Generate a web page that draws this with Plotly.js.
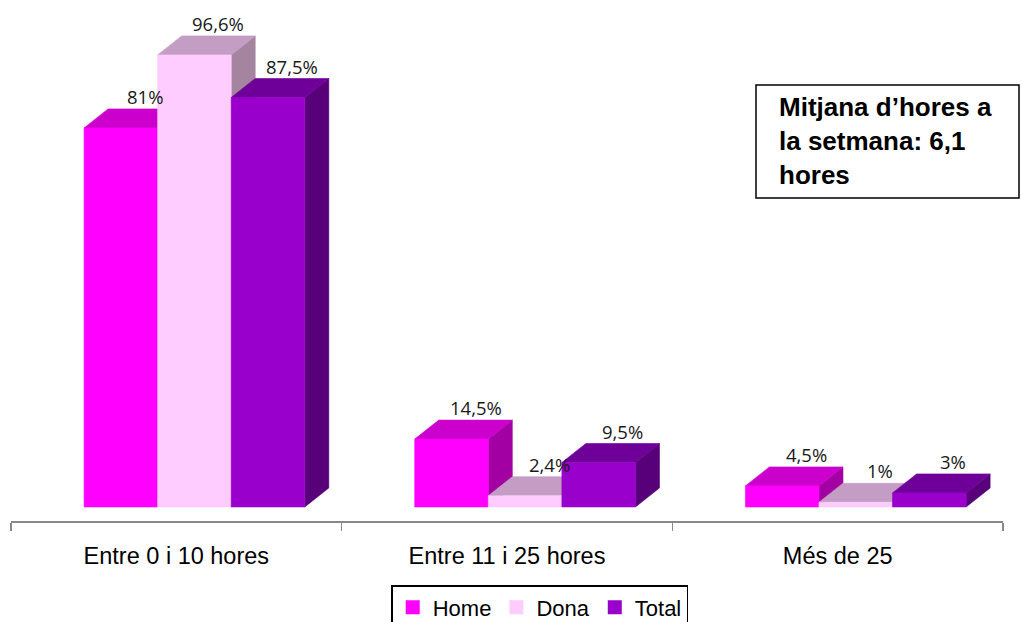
<!DOCTYPE html>
<html>
<head>
<meta charset="utf-8">
<script src="https://cdn.plot.ly/plotly-3.0.1.min.js"></script>
<style>html,body{margin:0;padding:0;background:#fff;}#chart{width:1022px;height:622px;}</style>
</head>
<body>
<div id="chart"></div>
<script>
// ---- data ----
const categories = ['Entre 0 i 10 hores', 'Entre 11 i 25 hores', 'Més de 25'];
const seriesNames = ['Home', 'Dona', 'Total'];
const home = [81, 14.5, 4.5];
const dona = [96.6, 2.4, 1];
const total = [87.5, 9.5, 3];
const infoLines = ['Mitjana d’hores a', 'la setmana: 6,1', 'hores'];

// ---- styles ----
const faceColors = [
  {front: '#FF00FF', top: '#CC00CC', side: '#A300A3'},
  {front: '#FFCCFF', top: '#C39DC3', side: '#A4849F'},
  {front: '#9900CC', top: '#6E0099', side: '#57007A'}
];
const barStart = 0.221, barW = 0.2225, depthX = 0.0726, depthY = 4.06;

const series = [home, dona, total];
const traces = [];

function poly(xs, ys, color) {
  traces.push({
    type: 'scatter', mode: 'lines', x: xs.concat([xs[0]]), y: ys.concat([ys[0]]),
    fill: 'toself', fillcolor: color, line: {color: color, width: 0.6},
    hoverinfo: 'skip', showlegend: false
  });
}

const annotations = [];
categories.forEach((cat, i) => {
  series.forEach((vals, k) => {
    const v = vals[i];
    const x0 = i + barStart + k * barW, x1 = x0 + barW;
    const c = faceColors[k];
    poly([x1, x1 + depthX, x1 + depthX, x1], [0, depthY, v + depthY, v], c.side);
    poly([x0, x1, x1 + depthX, x0 + depthX], [v, v, v + depthY, v + depthY], c.top);
    poly([x0, x1, x1, x0], [0, 0, v, v], c.front);
    annotations.push({
      x: (x0 + x1) / 2 + depthX, y: v + depthY, xref: 'x', yref: 'y',
      text: String(v).replace('.', ',') + '%', showarrow: false,
      yanchor: 'bottom', xanchor: 'center', yshift: -2,
      font: {family: 'Open Sans, sans-serif', size: 18.5, color: '#1a1a1a'}
    });
  });
});

// legend entries
seriesNames.forEach((n, k) => {
  traces.push({
    type: 'scatter', mode: 'markers', x: [null], y: [null], name: n,
    marker: {symbol: 'square', size: 14, color: faceColors[k].front},
    hoverinfo: 'skip'
  });
});

annotations.push({
  xref: 'paper', yref: 'paper', x: (777 - 11) / 992, y: (521 - 90) / 511,
  xanchor: 'left', yanchor: 'top', align: 'left', showarrow: false,
  text: '<b>' + infoLines.join('<br>') + '</b>',
  font: {family: 'Liberation Sans, Arial, sans-serif', size: 26, color: '#000'}
});

const layout = {
  width: 1022, height: 622,
  margin: {l: 11, r: 19, t: 10, b: 101, autoexpand: false},
  paper_bgcolor: '#fff', plot_bgcolor: '#fff',
  showlegend: true,
  xaxis: {
    range: [0, 3], tickvals: [0.5, 1.5, 2.5], ticktext: categories, ticks: '',
    showline: true, linecolor: '#888888', linewidth: 1.5, showgrid: false, zeroline: false,
    minor: {tickmode: 'linear', tick0: 0, dtick: 1, ticks: 'outside', ticklen: 8, tickcolor: '#888888', tickwidth: 1.5, showgrid: false},
    tickfont: {family: 'Liberation Sans, Arial, sans-serif', size: 23.5, color: '#000'},
    ticklabelstandoff: 13, fixedrange: true, automargin: false
  },
  yaxis: {range: [-3, 106.2], visible: false, fixedrange: true, automargin: false},
  legend: {
    orientation: 'h', x: 0.533, xanchor: 'center', y: (521 - 585) / 511, yanchor: 'top',
    font: {family: 'Liberation Sans, Arial, sans-serif', size: 22, color: '#000'},
    bordercolor: '#000', borderwidth: 1.5, bgcolor: '#fff',
    itemclick: false, itemdoubleclick: false, tracegroupgap: 0
  },
  shapes: [{
    type: 'rect', xref: 'paper', yref: 'paper',
    x0: (756 - 11) / 992, x1: (1019 - 11) / 992, y0: (521 - 198) / 511, y1: (521 - 85) / 511,
    line: {color: '#000', width: 1.5}, fillcolor: 'rgba(0,0,0,0)'
  }],
  annotations: annotations
};

Plotly.newPlot('chart', traces, layout, {displayModeBar: false, staticPlot: true});
</script>
</body>
</html>
